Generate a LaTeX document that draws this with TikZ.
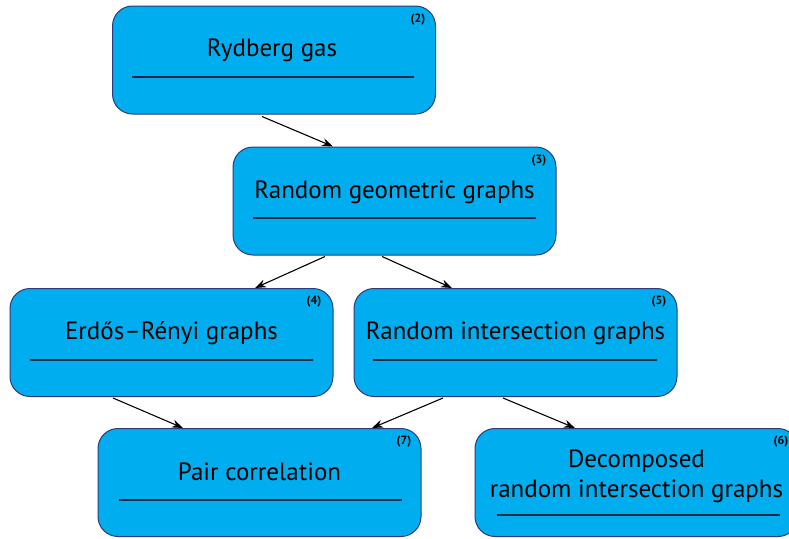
\documentclass[tikz,border=0pt]{standalone}
\usepackage{fontspec}
\setmainfont{PT Sans}
\usetikzlibrary{arrows.meta}
\definecolor{boxfill}{HTML}{00AEEF}
\definecolor{boxedge}{HTML}{2E3A7A}
\definecolor{rulecol}{HTML}{1A2A4A}
\tikzset{
  box/.style={draw=boxedge, line width=1pt, fill=boxfill, rounded corners=20pt,
    minimum width=323pt, minimum height=108pt, inner sep=0pt},
  title/.style={font=\fontsize{25}{30}\selectfont, text=black, inner sep=0pt, align=center},
  num/.style={font=\fontsize{12}{14}\selectfont\bfseries, text=black, inner sep=0pt},
  rul/.style={draw=rulecol, line width=1.3pt},
  arr/.style={draw=black, line width=1.1pt, -{Stealth[length=11pt,width=8pt]}}
}
\begin{document}
\begin{tikzpicture}[x=1pt,y=-1pt]
\useasboundingbox (0,0) rectangle (789,538);
% boxes
\node[box] (b2) at (274,60) {};
\node[box] (b3) at (394.5,201) {};
\node[box] (b4) at (171.5,342.5) {};
\node[box] (b5) at (515.5,342.5) {};
\node[box] (b7) at (259.5,482.5) {};
\node[box] (b6) at (636.5,482.5) {};
% titles
\node[title] (t2) at (272,50) {Rydberg gas};
\node[title] (t3) at (394.5,192) {Random geometric graphs};
\node[title] (t4) at (171.5,333) {Erdős–Rényi graphs};
\node[title] (t5) at (515.5,333) {Random intersection graphs};
\node[title] (t7) at (259.5,472) {Pair correlation};
\node[title] (t6) at (636.5,476) {Decomposed\\random intersection graphs};
% rules
\draw[rul] (132,77) -- (414,77);
\draw[rul] (253,218) -- (536,218);
\draw[rul] (30,360) -- (313,360);
\draw[rul] (373,360) -- (657,360);
\draw[rul] (119,500) -- (402,500);
\draw[rul] (497,515) -- (780,515);
% numbers
\node[num] (n2) at (418,20) {(2)};
\node[num] (n3) at (539,161) {(3)};
\node[num] (n4) at (314,302) {(4)};
\node[num] (n5) at (659,302) {(5)};
\node[num] (n7) at (404,442) {(7)};
\node[num] (n6) at (781,442) {(6)};
% arrows
\draw[arr] ([xshift=-12pt,yshift=-2pt]b2.south) -- ([xshift=-61.5pt]b3.north);
\draw[arr] ([xshift=-69.5pt,yshift=-1pt]b3.south) -- ([xshift=83.5pt]b4.north);
\draw[arr] ([xshift=-12.5pt,yshift=-1pt]b3.south) -- ([xshift=-63.5pt]b5.north);
\draw[arr] ([xshift=-58.5pt,yshift=-1pt]b4.south) -- ([xshift=-76.5pt]b7.north);
\draw[arr] ([xshift=-72.5pt,yshift=-1pt]b5.south) -- ([xshift=112.5pt]b7.north);
\draw[arr] ([xshift=-12.5pt,yshift=-1pt]b5.south) -- ([xshift=-61.5pt]b6.north);
\end{tikzpicture}
\end{document}
